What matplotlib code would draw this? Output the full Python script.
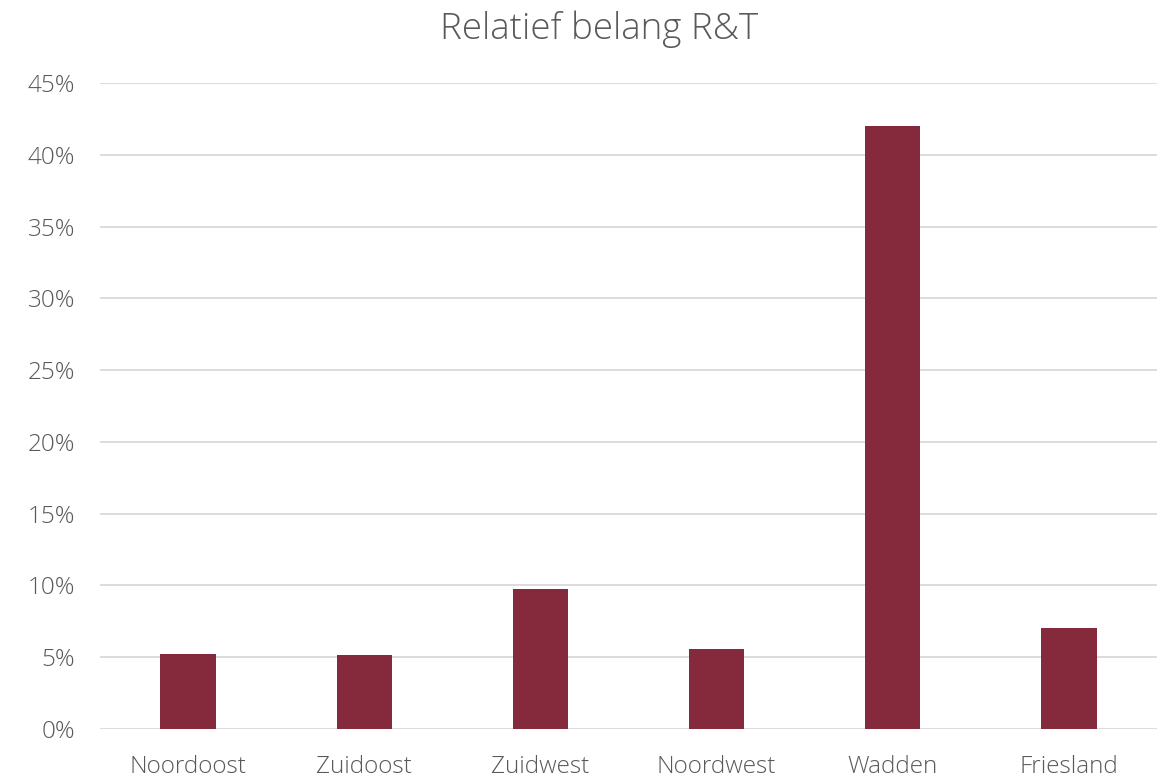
import matplotlib
matplotlib.use("Agg")
import matplotlib.pyplot as plt
from matplotlib.ticker import FuncFormatter

categories = ["Noordoost", "Zuidoost", "Zuidwest", "Noordwest", "Wadden", "Friesland"]
values = [5.2, 5.15, 9.75, 5.55, 42.0, 7.05]
yticks = [0, 5, 10, 15, 20, 25, 30, 35, 40, 45]

plt.rcParams['font.family'] = ['Open Sans', 'DejaVu Sans']

fig = plt.figure(figsize=(11.6, 7.76), dpi=100)
ax = fig.add_axes([100/1160, 1-729/776, 1057/1160, (729-83)/776])

x = range(len(categories))
ax.bar(x, values, width=0.315, color="#85293C", zorder=3)

ax.set_xlim(-0.5, len(categories)-0.5)
ax.set_ylim(0, 45)
ax.set_yticks(yticks)
ax.yaxis.set_major_formatter(FuncFormatter(lambda v, p: f"{int(v)}%"))
ax.set_xticks(list(x))
ax.set_xticklabels(categories)
ax.grid(axis='y', color='#D9D9D9', linewidth=1.3, zorder=0)
for s in ax.spines.values():
    s.set_visible(False)
ax.tick_params(axis='both', length=0, labelsize=17.5, labelcolor='#595959')
ax.tick_params(axis='x', pad=19)
ax.tick_params(axis='y', pad=18)
for lbl in ax.get_xticklabels() + ax.get_yticklabels():
    lbl.set_fontweight('light')

fig.text(599/1160, 1-29/776, "Relatief belang R&T", ha='center', va='center',
         fontsize=26.5, color='#595959', fontweight='light')

fig.savefig("out.png", dpi=100, facecolor='white')
